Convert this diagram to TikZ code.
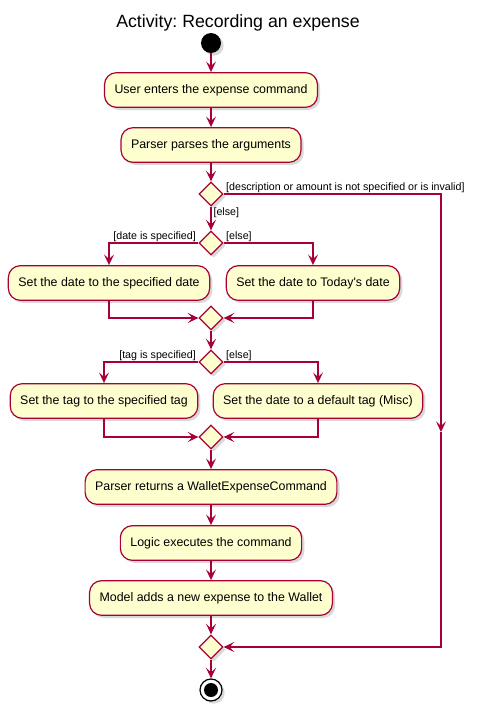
\documentclass[tikz,border=0pt]{standalone}
\usepackage{fontspec}
\setmainfont{Liberation Sans}
\usetikzlibrary{shapes.geometric,arrows.meta,shadows}
\definecolor{yellowact}{RGB}{254, 254, 206}
\definecolor{redline}{RGB}{168, 0, 54}
\frenchspacing

\begin{document}
\begin{tikzpicture}[x=0.75pt, y=-0.75pt,
    shade/.style={drop shadow={shadow xshift=2pt, shadow yshift=-2pt, opacity=0.25, fill=black!60}},
    act/.style={draw=redline, fill=yellowact, rounded corners=9pt, line width=0.9pt, minimum height=26pt, inner xsep=7.5pt, font=\fontsize{9.3}{11}\selectfont, shade},
    dec/.style={diamond, draw=redline, fill=yellowact, line width=0.9pt, minimum width=18pt, minimum height=18pt, inner sep=0pt, shade},
    startdot/.style={circle, fill=black, minimum size=15pt, inner sep=0pt, shade},
    enddot/.style={circle, draw=black, fill=white, line width=0.9pt, minimum size=16.5pt, inner sep=0pt, shade,
        path picture={\fill[black] (path picture bounding box.center) circle (5.25pt);}},
    flow/.style={draw=redline, line width=0.9pt, -{Stealth[length=8pt, width=7.5pt, inset=3.5pt]}},
    lbl/.style={font=\fontsize{8}{10}\selectfont, inner xsep=1.5pt, inner ysep=0.8pt},
    ttl/.style={font=\fontsize{13.3}{16}\selectfont}]
    \useasboundingbox (0,0) rectangle (477,711);
    \node[ttl] (title) at (238,23) {Activity: Recording an expense};
    \node[startdot] (start) at (211,43) {};
    \node[act] (usr) at (211,90) {User enters the expense command};
    \node[act] (parse) at (211,145) {Parser parses the arguments};
    \node[dec] (chkargs) at (211,194) {};
    \node[dec] (chkdate) at (211,243) {};
    \node[act] (datespec) at (109,283) {Set the date to the specified date};
    \node[act] (datetoday) at (313,283) {Set the date to Today\textquotesingle s date};
    \node[dec] (mrgdate) at (211,318) {};
    \node[dec] (chktag) at (211,362) {};
    \node[act] (tagspec) at (104,401) {Set the tag to the specified tag};
    \node[act] (tagmisc) at (318,401) {Set the date to a default tag (Misc)};
    \node[dec] (mrgtag) at (211,437) {};
    \node[act] (ret) at (211,487) {Parser returns a WalletExpenseCommand};
    \node[act] (exec) at (211,543) {Logic executes the command};
    \node[act] (add) at (211,598) {Model adds a new expense to the Wallet};
    \node[dec] (mrgend) at (211,647) {};
    \node[enddot] (stop) at (211,690) {};
    \coordinate (skip) at (441,432);

    \draw[flow] (start) -- (usr);
    \draw[flow] (usr) -- (parse);
    \draw[flow] (parse) -- (chkargs);
    \draw[flow] (chkargs) -- node[lbl, pos=0.25, right] {[else]} (chkdate);
    \draw[flow] (chkargs.east) -| node[lbl, pos=0, above right] {[description or amount is not specified or is invalid]} (skip);
    \draw[flow] (skip) |- (mrgend);
    \draw[flow] (chkdate.west) -| node[lbl, pos=0, above left] {[date is specified]} (datespec);
    \draw[flow] (chkdate.east) -| node[lbl, pos=0, above right] {[else]} (datetoday);
    \draw[flow] (datespec) |- (mrgdate);
    \draw[flow] (datetoday) |- (mrgdate);
    \draw[flow] (mrgdate) -- (chktag);
    \draw[flow] (chktag.west) -| node[lbl, pos=0, above left] {[tag is specified]} (tagspec);
    \draw[flow] (chktag.east) -| node[lbl, pos=0, above right] {[else]} (tagmisc);
    \draw[flow] (tagspec) |- (mrgtag);
    \draw[flow] (tagmisc) |- (mrgtag);
    \draw[flow] (mrgtag) -- (ret);
    \draw[flow] (ret) -- (exec);
    \draw[flow] (exec) -- (add);
    \draw[flow] (add) -- (mrgend);
    \draw[flow] (mrgend) -- (stop);
\end{tikzpicture}
\end{document}
